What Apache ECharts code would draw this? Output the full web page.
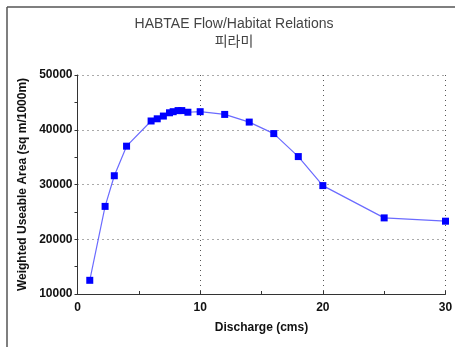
<!DOCTYPE html>
<html>
<head>
<meta charset="utf-8">
<script src="https://cdn.jsdelivr.net/npm/echarts@6/dist/echarts.min.js"></script>
<style>html,body{margin:0;padding:0;background:#fff;}#c{width:456px;height:347px;}</style>
</head>
<body>
<div id="c"></div>
<script>
const titleLines = ["HABTAE Flow/Habitat Relations", "피라미"];
const xName = "Discharge (cms)";
const yName = "Weighted Useable Area (sq m/1000m)";
const discharge = [1, 2.25, 3, 4, 6, 6.5, 7, 7.5, 7.8, 8.2, 8.5, 9, 10, 12, 14, 16, 18, 20, 25, 30];
const wua = [12500, 26000, 31600, 37000, 41600, 42000, 42500, 43100, 43300, 43500, 43500, 43200, 43300, 42800, 41400, 39300, 35100, 29800, 23900, 23300];

const chart = echarts.init(document.getElementById('c'), null, {renderer: 'canvas'});
const font = 'Arial, "Liberation Sans", sans-serif';
chart.setOption({
  animation: false,
  backgroundColor: '#fff',
  title: {
    text: titleLines.join('\n'),
    left: 229, top: 10, textAlign: 'center',
    textStyle: {fontFamily: '"Liberation Sans", Arial, "Noto Sans CJK KR", sans-serif', fontSize: 14, fontWeight: 'normal', color: '#444', lineHeight: 18}
  },
  graphic: [
    {type: 'line', shape: {x1: 7, y1: 7, x2: 7, y2: 347}, style: {stroke: '#555', lineWidth: 1.5}},
    {type: 'line', shape: {x1: 7, y1: 7, x2: 455, y2: 7}, style: {stroke: '#555', lineWidth: 1.5}}
  ],
  grid: {left: 77.5, right: 10.5, top: 75, bottom: 53},
  xAxis: {
    type: 'value', min: 0, max: 30, interval: 10,
    name: xName, nameLocation: 'middle', nameGap: 28,
    nameTextStyle: {fontFamily: font, fontWeight: 'bold', fontSize: 12, color: '#111'},
    axisLine: {lineStyle: {color: '#333', width: 1}},
    axisTick: {show: true, inside: true, length: 3, lineStyle: {color: '#333'}},
    minorTick: {show: true, splitNumber: 2, length: 3, lineStyle: {color: '#333'}},
    axisLabel: {fontFamily: font, fontWeight: 'bold', fontSize: 12, color: '#111', margin: 8},
    splitLine: {show: true, lineStyle: {color: '#555', type: [1, 4], width: 1}}
  },
  yAxis: {
    type: 'value', min: 10000, max: 50000, interval: 10000,
    name: yName, nameLocation: 'middle', nameGap: 47,
    nameTextStyle: {fontFamily: font, fontWeight: 'bold', fontSize: 12, color: '#111'},
    axisLine: {show: true, lineStyle: {color: '#333', width: 1}},
    axisTick: {show: true, inside: false, length: 3, lineStyle: {color: '#333'}},
    minorTick: {show: true, splitNumber: 2, length: 3, lineStyle: {color: '#333'}},
    axisLabel: {fontFamily: font, fontWeight: 'bold', fontSize: 12, color: '#111', margin: 5, formatter: v => String(v)},
    splitLine: {show: true, lineStyle: {color: '#555', type: [1, 4], width: 1}}
  },
  series: [{
    type: 'line',
    data: discharge.map((x, i) => [x, wua[i]]),
    symbol: 'rect', symbolSize: 7,
    itemStyle: {color: '#0000ff'},
    lineStyle: {color: '#6b6bff', width: 1.2},
    showSymbol: true
  }]
});
</script>
</body>
</html>
